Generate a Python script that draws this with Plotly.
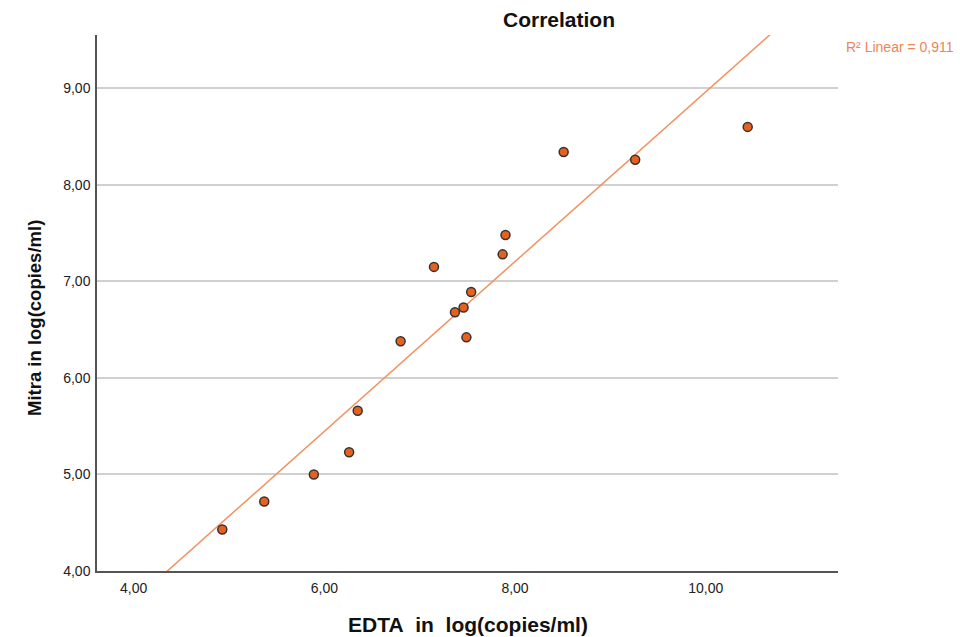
import numpy as np
import plotly.graph_objects as go

# Data
edta = [4.93, 5.37, 5.89, 6.26, 6.35, 6.80, 7.15, 7.37, 7.46, 7.49, 7.54, 7.87, 7.90, 8.51, 9.26, 10.44]
mitra = [4.43, 4.72, 5.00, 5.23, 5.66, 6.38, 7.15, 6.68, 6.73, 6.42, 6.89, 7.28, 7.48, 8.34, 8.26, 8.60]
x_ticks = [4, 6, 8, 10]
y_ticks = [4, 5, 6, 7, 8, 9]
r2_label = "R² Linear = 0,911"

x_range = [3.616, 11.387]
y_range = [4.0, 9.552]

slope, intercept = np.polyfit(edta, mitra, 1)
fit_x = np.array(x_range)
fit_y = intercept + slope * fit_x

FONT = "Liberation Sans, Arial, sans-serif"
ORANGE_LINE = "#F2915F"
ORANGE_FILL = "#E6601E"

fig = go.Figure()
fig.add_trace(go.Scatter(
    x=fit_x, y=fit_y, mode="lines",
    line=dict(color=ORANGE_LINE, width=1.5),
    hoverinfo="skip", showlegend=False,
))
fig.add_trace(go.Scatter(
    x=edta, y=mitra, mode="markers",
    marker=dict(size=9, color=ORANGE_FILL, line=dict(color="#333333", width=1.5)),
    showlegend=False,
))

fig.update_layout(
    width=960, height=637,
    margin=dict(l=97, r=122, t=35, b=66),
    paper_bgcolor="white", plot_bgcolor="white",
    separators=",.",
    font=dict(family=FONT, color="#222222", size=14),
    xaxis=dict(
        range=x_range, tickvals=x_ticks, tickformat=".2f",
        showgrid=False, zeroline=False,
        showline=True, linecolor="#555555", linewidth=1.5,
        ticks="outside", ticklen=3, tickcolor="rgba(0,0,0,0)",
        tickfont=dict(size=14, color="#222222", family=FONT),
    ),
    yaxis=dict(
        range=y_range, tickvals=y_ticks, tickformat=".2f",
        showgrid=True, gridcolor="#D0D0D0", gridwidth=1.5, zeroline=False,
        showline=True, linecolor="#555555", linewidth=1.5,
        ticks="outside", ticklen=2, tickcolor="rgba(0,0,0,0)",
        tickfont=dict(size=14, color="#222222", family=FONT),
    ),
    annotations=[
        dict(text="<b>Correlation</b>", xref="paper", yref="paper",
             x=0.6235, y=1.028, xanchor="center", yanchor="middle",
             showarrow=False, font=dict(size=21, color="#111111", family=FONT)),
        dict(text="<b>EDTA\u00a0\u00a0in\u00a0\u00a0log(copies/ml)</b>", xref="paper", yref="paper",
             x=0.5, y=-0.1007, xanchor="center", yanchor="middle",
             showarrow=False, font=dict(size=21, color="#111111", family=FONT)),
        dict(text="<b>Mitra in log(copies/ml)</b>", xref="paper", yref="paper",
             x=-0.085, y=0.472, xanchor="center", yanchor="middle", textangle=-90,
             showarrow=False, font=dict(size=18.5, color="#111111", family=FONT)),
        dict(text=r2_label, xref="paper", yref="paper",
             x=1.008, y=0.977, xanchor="left", yanchor="middle",
             showarrow=False, font=dict(size=14, color="#EE8456", family=FONT)),
    ],
)

fig.write_html(
    "out.html",
    config={"displayModeBar": False},
    post_script="document.body.style.margin='0';document.body.style.overflow='hidden';",
)
